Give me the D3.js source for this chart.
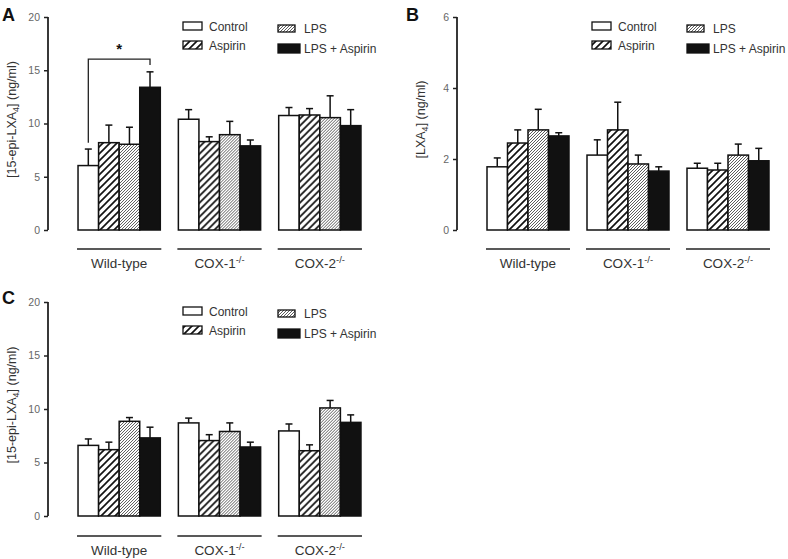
<!DOCTYPE html>
<html>
<head>
<meta charset="utf-8">
<script src="https://cdn.jsdelivr.net/npm/d3@7"></script>
<style>
  html, body { margin: 0; padding: 0; background: #fff; }
  svg { display: block; font-family: "Liberation Sans", Arial, Helvetica, sans-serif; }
</style>
</head>
<body>
<svg id="chart" width="788" height="559"></svg>
<script>
// ---------------- DATA ----------------
const groups = ["Wild-type", "COX-1", "COX-2"];
const groupSup = ["", "-/-", "-/-"];
const treatments = ["Control", "Aspirin", "LPS", "LPS + Aspirin"];

// Panel A: [15-epi-LXA4] (ng/ml)
const meanA = [[6.05, 8.2, 8.05, 13.4], [10.4, 8.3, 8.95, 7.9], [10.75, 10.8, 10.55, 9.8]];
const semA  = [[1.55, 1.65, 1.6, 1.45], [0.9, 0.45, 1.25, 0.55], [0.75, 0.6, 2.05, 1.5]];
const ticksA = [0, 5, 10, 15, 20];

// Panel B: [LXA4] (ng/ml)
const meanB = [[1.78, 2.45, 2.82, 2.65], [2.11, 2.82, 1.86, 1.66], [1.74, 1.69, 2.11, 1.95]];
const semB  = [[0.25, 0.37, 0.58, 0.09], [0.43, 0.78, 0.25, 0.12], [0.14, 0.19, 0.31, 0.35]];
const ticksB = [0, 2, 4, 6];

// Panel C: [15-epi-LXA4] (ng/ml)
const meanC = [[6.6, 6.2, 8.85, 7.3], [8.7, 7.05, 7.9, 6.45], [7.95, 6.1, 10.1, 8.75]];
const semC  = [[0.6, 0.7, 0.35, 1.0], [0.45, 0.55, 0.8, 0.45], [0.65, 0.55, 0.7, 0.7]];
const ticksC = [0, 5, 10, 15, 20];

// Significance bracket in panel A (Wild-type, Control vs LPS + Aspirin)
const sigA = [{ group: "Wild-type", from: "Control", to: "LPS + Aspirin", top: 16.05, fromEnd: 8.2, toEnd: 15.5, label: "*" }];

// ---------------- STYLE / LAYOUT ----------------
const svg = d3.select("#chart");
const defs = svg.append("defs");

function hatch(id, size, width, color) {
  const p = defs.append("pattern").attr("id", id).attr("patternUnits", "userSpaceOnUse")
    .attr("width", size).attr("height", size);
  p.append("rect").attr("width", size).attr("height", size).attr("fill", "#fff");
  p.append("path")
    .attr("d", `M0,${size} L${size},0 M${-size/2},${size/2} L${size/2},${-size/2} M${size/2},${size*1.5} L${size*1.5},${size/2}`)
    .attr("stroke", color).attr("stroke-width", width).attr("stroke-linecap", "square");
}
hatch("hatchWide", 7, 1.7, "#111");
hatch("hatchFine", 3, 0.8, "#333");

const fills = {
  "Control": "#fff",
  "Aspirin": "url(#hatchWide)",
  "LPS": "url(#hatchFine)",
  "LPS + Aspirin": "#111"
};

const panels = [
  { letter: "A", mean: meanA, sem: semA, ticks: ticksA, max: 20, axisX: 48, yTop: 17, yBot: 230,
    range: [69, 370], lineY: 249, labelY: 268, ylab: ["[15-epi-LXA", "4", "] (ng/ml)"], letterX: 2, letterY: 21, sig: sigA },
  { letter: "B", mean: meanB, sem: semB, ticks: ticksB, max: 6, axisX: 457, yTop: 17, yBot: 230,
    range: [478, 778], lineY: 249, labelY: 268, ylab: ["[LXA", "4", "] (ng/ml)"], letterX: 406, letterY: 21, sig: [] },
  { letter: "C", mean: meanC, sem: semC, ticks: ticksC, max: 20, axisX: 48, yTop: 302, yBot: 516,
    range: [69, 370], lineY: 536, labelY: 555, ylab: ["[15-epi-LXA", "4", "] (ng/ml)"], letterX: 2, letterY: 304, sig: [] }
];

panels.forEach(P => {
  const g = svg.append("g");
  const y = d3.scaleLinear().domain([0, P.max]).range([P.yBot, P.yTop]);
  const x0 = d3.scaleBand().domain(groups).range(P.range).paddingInner(0.18).paddingOuter(0.09);
  const x1 = d3.scaleBand().domain(treatments).range([0, x0.bandwidth()]);

  // y axis
  const ax = g.append("g").attr("transform", `translate(${P.axisX},0)`)
    .call(d3.axisLeft(y).tickValues(P.ticks).tickSize(4).tickPadding(4).tickFormat(d3.format("d")));
  ax.select(".domain").attr("d", `M0,${y(P.max)}V${y(0)}`).attr("stroke", "#222").attr("stroke-width", 1.8);
  ax.selectAll(".tick line").attr("stroke", "#222").attr("stroke-width", 1.5);
  ax.selectAll(".tick text").attr("fill", "#666").style("font-size", "10.5px")
    .style("font-family", "'Liberation Sans', Arial, sans-serif");

  // y label
  const cy = (P.yTop + P.yBot) / 2 - 4;
  const yl = g.append("text")
    .attr("transform", `translate(${P.axisX - 32},${cy}) rotate(-90)`)
    .attr("text-anchor", "middle").attr("fill", "#333").style("font-size", "12.5px");
  yl.append("tspan").text(P.ylab[0]);
  yl.append("tspan").text(P.ylab[1]).attr("dy", 3).style("font-size", "9px");
  yl.append("tspan").text(P.ylab[2]).attr("dy", -3);

  // bars
  groups.forEach((grp, gi) => {
    const gg = g.append("g").attr("transform", `translate(${x0(grp)},0)`);
    treatments.forEach((t, ti) => {
      const m = P.mean[gi][ti], s = P.sem[gi][ti];
      const bx = x1(t), bw = x1.bandwidth();
      // error bar (upper only)
      gg.append("line").attr("x1", bx + bw / 2).attr("x2", bx + bw / 2)
        .attr("y1", y(m)).attr("y2", y(m + s)).attr("stroke", "#111").attr("stroke-width", 1.5);
      gg.append("line").attr("x1", bx + bw / 2 - 3.5).attr("x2", bx + bw / 2 + 3.5)
        .attr("y1", y(m + s)).attr("y2", y(m + s)).attr("stroke", "#111").attr("stroke-width", 1.5);
      gg.append("rect").attr("x", bx).attr("y", y(m)).attr("width", bw).attr("height", y(0) - y(m))
        .attr("fill", fills[t]).attr("stroke", "#111").attr("stroke-width", 1.5);
    });
    // group underline + label
    g.append("line").attr("x1", x0(grp) - 1).attr("x2", x0(grp) + x0.bandwidth() + 1)
      .attr("y1", P.lineY).attr("y2", P.lineY).attr("stroke", "#222").attr("stroke-width", 1.5);
    const lab = g.append("text").attr("x", x0(grp) + x0.bandwidth() / 2).attr("y", P.labelY)
      .attr("text-anchor", "middle").attr("fill", "#333").style("font-size", "13.5px");
    lab.append("tspan").text(grp);
    if (groupSup[gi]) lab.append("tspan").text(groupSup[gi]).attr("dy", -5).style("font-size", "9.5px");
  });

  // significance bracket
  P.sig.forEach(sg => {
    const gx = x0(sg.group);
    const xa = gx + x1(sg.from) + x1.bandwidth() / 2;
    const xb = gx + x1(sg.to) + x1.bandwidth() / 2;
    g.append("path").attr("d", `M${xa},${y(sg.fromEnd)}V${y(sg.top)}H${xb}V${y(sg.toEnd)}`)
      .attr("fill", "none").attr("stroke", "#222").attr("stroke-width", 1.3);
    g.append("text").attr("x", (xa + xb) / 2).attr("y", y(sg.top) - 5).attr("text-anchor", "middle")
      .attr("fill", "#111").style("font-size", "15px").style("font-weight", "bold").text(sg.label);
  });

  // legend
  const leg = [
    { t: "Control", bx: P.axisX + 135, by: P.yTop + 5, w: 19, h: 8 },
    { t: "Aspirin", bx: P.axisX + 135, by: P.yTop + 24, w: 19, h: 8 },
    { t: "LPS", bx: P.axisX + 230, by: P.yTop + 8, w: 17, h: 7 },
    { t: "LPS + Aspirin", bx: P.axisX + 230, by: P.yTop + 27, w: 22, h: 9 }
  ];
  leg.forEach(L => {
    g.append("rect").attr("x", L.bx).attr("y", L.by).attr("width", L.w).attr("height", L.h)
      .attr("fill", fills[L.t]).attr("stroke", "#111").attr("stroke-width", 1.3);
    g.append("text").attr("x", L.bx + 26).attr("y", L.by + L.h / 2 + 4.5)
      .attr("fill", "#333").style("font-size", "12px").text(L.t);
  });

  // panel letter
  svg.append("text").attr("x", P.letterX).attr("y", P.letterY).attr("fill", "#111")
    .style("font-size", "18px").style("font-weight", "bold").text(P.letter);
});
</script>
</body>
</html>
